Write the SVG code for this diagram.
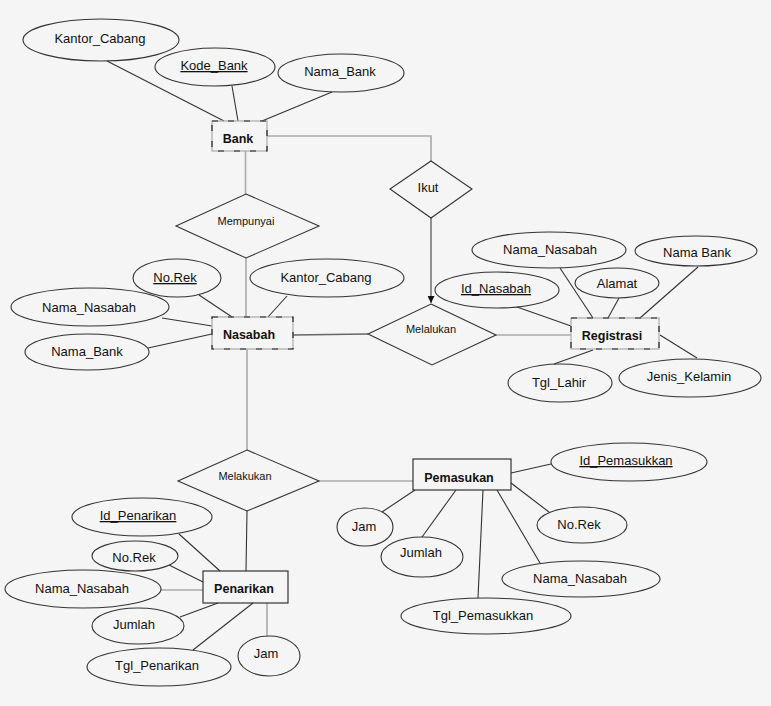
<svg xmlns="http://www.w3.org/2000/svg" width="771" height="706" viewBox="0 0 771 706">
<defs>
<marker id="arr" viewBox="0 0 10 10" refX="10" refY="5" markerWidth="7" markerHeight="7" orient="auto" markerUnits="userSpaceOnUse">
<path d="M0,0 L10,5 L0,10 z" fill="#111"/>
</marker>
</defs>
<style>
text{font-family:"Liberation Sans",Arial,sans-serif;fill:#111;text-anchor:middle}
.a{font-size:13px}
.u{text-decoration:underline}
.e{font-size:12.5px;font-weight:bold}
.r{font-size:11px}
ellipse{fill:none;stroke:#333;stroke-width:1.1}
polygon{fill:none;stroke:#333;stroke-width:1.1}
.box{fill:none;stroke:#aaa;stroke-width:1.2}
.boxd{fill:none;stroke:#222;stroke-width:1.2;stroke-dasharray:6 10}
.boxs{fill:none;stroke:#333;stroke-width:1.2}
.l{stroke:#333;stroke-width:1.1;fill:none}
.g{stroke:#aaa;stroke-width:1.6;fill:none}
.m{stroke:#666;stroke-width:1.4;fill:none}
</style>
<rect x="0" y="0" width="771" height="706" fill="#f5f5f5"/>

<g id="connectors">
<line class="l" x1="107" y1="61" x2="224" y2="121"/>
<line class="l" x1="232" y1="86" x2="238" y2="121"/>
<line class="l" x1="332" y1="92" x2="262" y2="121"/>
<line class="g" x1="245.5" y1="151" x2="245.5" y2="194"/>
<polyline class="g" points="267,136 431,136 431,161"/>
<line class="m" x1="431" y1="218" x2="431" y2="303" marker-end="url(#arr)"/>
<line class="g" x1="246" y1="258" x2="246" y2="317"/>
<line class="l" x1="199" y1="295" x2="232" y2="317"/>
<line class="l" x1="287" y1="296" x2="268" y2="317"/>
<line class="l" x1="162" y1="318" x2="212" y2="326"/>
<line class="l" x1="148" y1="348" x2="212" y2="334"/>
<line class="m" x1="293" y1="335" x2="368" y2="334"/>
<line class="g" x1="247" y1="349" x2="247" y2="450"/>
<line class="g" x1="496" y1="335" x2="571" y2="335"/>
<line class="l" x1="560" y1="268" x2="593" y2="318"/>
<line class="l" x1="619" y1="298" x2="608" y2="318"/>
<line class="l" x1="698" y1="267" x2="640" y2="318"/>
<line class="l" x1="517" y1="307" x2="571" y2="326"/>
<line class="l" x1="554" y1="364" x2="593" y2="350"/>
<line class="l" x1="697" y1="358" x2="660" y2="335"/>
<line class="g" x1="319" y1="481" x2="413" y2="481"/>
<line class="l" x1="247" y1="511" x2="246" y2="571"/>
<line class="l" x1="179" y1="534" x2="220" y2="571"/>
<line class="l" x1="169" y1="565" x2="203" y2="582"/>
<line class="g" x1="161" y1="590" x2="203" y2="590"/>
<line class="l" x1="180" y1="617" x2="218" y2="603"/>
<line class="l" x1="193" y1="650" x2="253" y2="603"/>
<line class="g" x1="267" y1="603" x2="267" y2="636"/>
<line class="l" x1="511" y1="473" x2="551" y2="464"/>
<line class="l" x1="511" y1="483" x2="549" y2="512"/>
<line class="l" x1="497" y1="490" x2="540" y2="563"/>
<line class="l" x1="483" y1="490" x2="478" y2="598"/>
<line class="l" x1="456" y1="490" x2="422" y2="537"/>
<line class="l" x1="415" y1="490" x2="382" y2="512"/>
</g>

<g id="bank">
<rect class="box" x="212" y="121" width="55" height="30"/>
<rect class="boxd" x="212" y="121" width="55" height="30"/>
<text class="e" x="238" y="143">Bank</text>
</g>
<g id="attr-bank-kantor"><ellipse cx="101" cy="40" rx="78" ry="21"/><text class="a" x="100" y="43">Kantor_Cabang</text></g>
<g id="attr-bank-kode"><ellipse cx="215" cy="67" rx="60" ry="19"/><text class="a u" x="214" y="70">Kode_Bank</text></g>
<g id="attr-bank-nama"><ellipse cx="341" cy="73" rx="63" ry="19"/><text class="a" x="340" y="76">Nama_Bank</text></g>

<g id="rel-ikut"><polygon points="431,161 472,189 431,218 390,189"/><text class="a" x="428" y="192">Ikut</text></g>
<g id="rel-mempunyai"><polygon points="246,194 319,226 246,258 176,226"/><text class="r" x="246" y="225">Mempunyai</text></g>

<g id="nasabah">
<rect class="box" x="212" y="317" width="81" height="32"/>
<rect class="boxd" x="212" y="317" width="81" height="32"/>
<text class="e" x="249" y="339">Nasabah</text>
</g>
<g id="attr-nas-norek"><ellipse cx="177" cy="278" rx="44" ry="19"/><text class="a u" x="175" y="282">No.Rek</text></g>
<g id="attr-nas-kantor"><ellipse cx="327" cy="278" rx="77" ry="19"/><text class="a" x="326" y="282">Kantor_Cabang</text></g>
<g id="attr-nas-nama"><ellipse cx="90" cy="307" rx="79" ry="19"/><text class="a" x="89" y="312">Nama_Nasabah</text></g>
<g id="attr-nas-bank"><ellipse cx="87" cy="352" rx="62" ry="18"/><text class="a" x="87" y="356">Nama_Bank</text></g>

<g id="rel-melalukan"><polygon points="431,304 496,335 432,365 368,334"/><text class="r" x="431" y="333">Melalukan</text></g>

<g id="registrasi">
<rect class="box" x="571" y="318" width="88" height="31"/>
<rect class="boxd" x="571" y="318" width="88" height="31"/>
<text class="e" x="612" y="340">Registrasi</text>
</g>
<g id="attr-reg-nama"><ellipse cx="549" cy="250" rx="77" ry="18"/><text class="a" x="550" y="254">Nama_Nasabah</text></g>
<g id="attr-reg-bank"><ellipse cx="696" cy="251" rx="61" ry="15"/><text class="a" x="697" y="257">Nama Bank</text></g>
<g id="attr-reg-alamat"><ellipse cx="617" cy="283" rx="42" ry="15"/><text class="a" x="617" y="288">Alamat</text></g>
<g id="attr-reg-id"><ellipse cx="497" cy="290" rx="62" ry="18"/><text class="a u" x="496" y="293">Id_Nasabah</text></g>
<g id="attr-reg-tgl"><ellipse cx="560" cy="383" rx="52" ry="19"/><text class="a" x="559" y="387">Tgl_Lahir</text></g>
<g id="attr-reg-jk"><ellipse cx="690" cy="378" rx="71" ry="19"/><text class="a" x="689" y="381">Jenis_Kelamin</text></g>

<g id="rel-melakukan"><polygon points="247,450 319,481 247,511 178,481"/><text class="r" x="245" y="480">Melakukan</text></g>

<g id="penarikan">
<rect class="boxs" x="203" y="571" width="85" height="32"/>
<text class="e" x="244" y="593">Penarikan</text>
</g>
<g id="attr-pen-id"><ellipse cx="142" cy="517" rx="70" ry="19"/><text class="a u" x="138" y="520">Id_Penarikan</text></g>
<g id="attr-pen-norek"><ellipse cx="135" cy="556" rx="43" ry="15"/><text class="a" x="134" y="562">No.Rek</text></g>
<g id="attr-pen-nama"><ellipse cx="83" cy="589" rx="78" ry="19"/><text class="a" x="82" y="593">Nama_Nasabah</text></g>
<g id="attr-pen-jumlah"><ellipse cx="138" cy="626" rx="46" ry="18"/><text class="a" x="134" y="629">Jumlah</text></g>
<g id="attr-pen-tgl"><ellipse cx="159" cy="667" rx="72" ry="19"/><text class="a" x="157" y="670">Tgl_Penarikan</text></g>
<g id="attr-pen-jam"><ellipse cx="269" cy="656" rx="31" ry="20"/><text class="a" x="266" y="658">Jam</text></g>

<g id="pemasukan">
<rect class="boxs" x="413" y="459" width="98" height="31"/>
<text class="e" x="459" y="482">Pemasukan</text>
</g>
<g id="attr-pem-id"><ellipse cx="629" cy="462" rx="78" ry="19"/><text class="a u" x="626" y="465">Id_Pemasukkan</text></g>
<g id="attr-pem-norek"><ellipse cx="582" cy="525" rx="45" ry="18"/><text class="a" x="579" y="529">No.Rek</text></g>
<g id="attr-pem-nama"><ellipse cx="581" cy="579" rx="79" ry="18"/><text class="a" x="580" y="583">Nama_Nasabah</text></g>
<g id="attr-pem-tgl"><ellipse cx="486" cy="616" rx="85" ry="18"/><text class="a" x="483" y="620">Tgl_Pemasukkan</text></g>
<g id="attr-pem-jam"><ellipse cx="365" cy="527" rx="28" ry="19"/><text class="a" x="364" y="531">Jam</text></g>
<g id="attr-pem-jumlah"><ellipse cx="422" cy="557" rx="41" ry="20"/><text class="a" x="421" y="557">Jumlah</text></g>
</svg>
